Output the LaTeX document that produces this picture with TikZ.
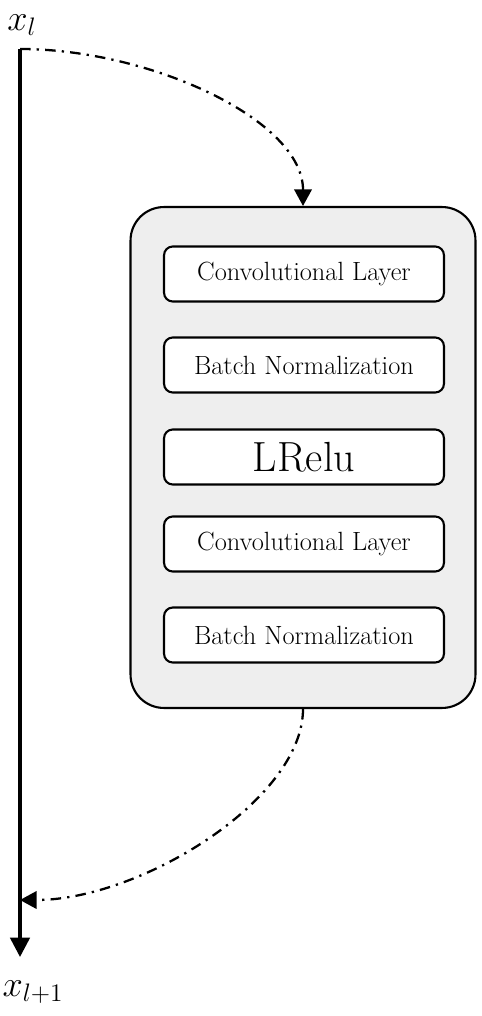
\documentclass[tikz,border=0pt]{standalone}
\usepackage{amsmath,amssymb}
\usetikzlibrary{arrows.meta}
\definecolor{blockgray}{RGB}{238,238,238}
\tikzset{
  layer/.style={draw,line width=1.2pt,fill=white,rounded corners=5pt,
    minimum width=5.6cm,minimum height=1.1cm,font=\fontsize{15}{18}\selectfont},
  skip/.style={line width=1.3pt,dash pattern=on 6pt off 3.5pt on 1.3pt off 3.5pt,
    -{Triangle[length=9.5pt,width=10pt]}}
}
\begin{document}
\begin{tikzpicture}[x=0.02cm,y=0.02cm]
\useasboundingbox (0,0) rectangle (482,-1016);
% residual block
\node[draw,line width=1.2pt,fill=blockgray,rounded corners=19pt,
  minimum width=6.9cm,minimum height=10.02cm] (block) at (303,-457.5) {};
\node[layer] (conv1) at (304,-274) {Convolutional Layer};
\node[layer] (bn1) at (304,-365) {Batch Normalization};
\node[layer,font=\fontsize{24}{27}\selectfont] (lrelu) at (304,-457) {LRelu};
\node[layer] (conv2) at (304,-544) {Convolutional Layer};
\node[layer] (bn2) at (304,-635) {Batch Normalization};
% identity path
\coordinate (top) at (20,-49);
\coordinate (merge) at (20,-900);
\coordinate (bottom) at (20,-957);
\draw[line width=2pt,-{Triangle[length=11pt,width=11pt]}] (top) -- (bottom);
\draw[skip] (top) .. controls (150,-49) and (303,-120) .. (block.north);
\draw[skip] (block.south) .. controls (303,-800) and (140,-900) .. (merge);
% labels
\node[font=\fontsize{22}{26}\selectfont,inner sep=1pt] (xin) at (22,-25) {$x_l$};
\node[font=\fontsize{22}{26}\selectfont,inner sep=1pt] (xout) at (33,-992) {$x_{l+1}$};
\end{tikzpicture}
\end{document}
